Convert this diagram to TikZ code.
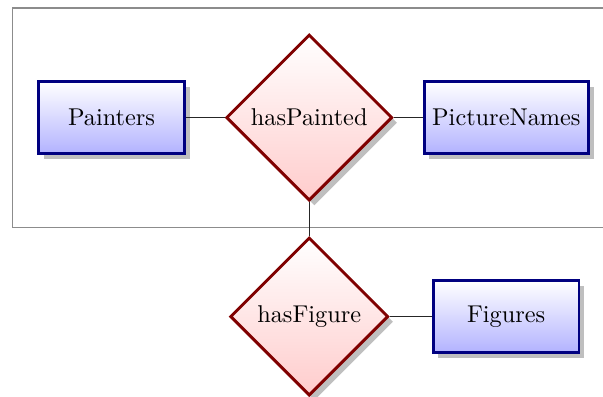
\documentclass[tikz,border=0pt]{standalone}
\usetikzlibrary{positioning, shapes.geometric, shadows, fit, backgrounds}
\begin{document}
\begin{tikzpicture}[
  node distance=14pt and 16pt,
  entity/.style={
    rectangle, draw=blue!50!black, line width=1.2pt,
    top color=white, bottom color=blue!30, drop shadow,
    minimum width=60pt, minimum height=29.5pt
  },
  relation/.style={
    diamond, aspect=1, draw=red!50!black, line width=1.2pt,
    top color=white, bottom color=red!20, drop shadow
  },
  conn/.style={draw=black!85, line width=0.5pt},
  frame/.style={draw=black!45, line width=0.5pt}
]
\useasboundingbox (-45.9pt,-114.6pt) rectangle (202.3pt,48.4pt);

%% -- upper group --
\node[entity]                          (painters) {Painters};
\node[relation, right=16pt of painters] (haspainted) {hasPainted};
\node[entity, right=11.9pt of haspainted] (picnames) {PictureNames};

%% -- lower group --
\node[relation, below=14pt of haspainted] (hasfigure) {hasFigure};
\node[entity, right=17.3pt of hasfigure]  (figures)   {Figures};

%% -- frame round the upper group --
\begin{scope}[on background layer]
  \node[frame, fit=(painters)(haspainted)(picnames), inner sep=10.3pt] (group) {};
\end{scope}

%% -- connectors --
\draw[conn] (painters)   -- (haspainted);
\draw[conn] (haspainted) -- (picnames);
\draw[conn] (haspainted) -- (hasfigure);
\draw[conn] (hasfigure)  -- (figures);

\end{tikzpicture}
\end{document}
